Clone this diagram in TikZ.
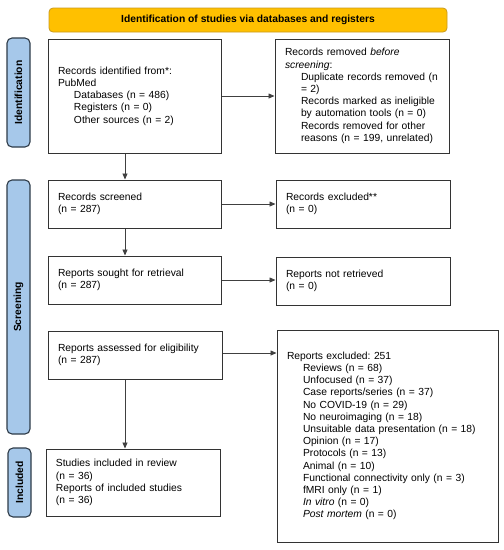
\documentclass[tikz,border=0pt]{standalone}
\usepackage{fontspec}
\setmainfont{Liberation Sans}
\usetikzlibrary{arrows.meta}
\definecolor{hdrfill}{HTML}{FFC000}
\definecolor{hdrline}{HTML}{C99A1E}
\definecolor{barfill}{HTML}{A6C8EA}
\definecolor{barline}{HTML}{2E3B48}
\definecolor{boxline}{HTML}{333333}
\definecolor{arrline}{HTML}{404040}
\newcommand{\ind}{\hspace*{16pt}}
\frenchspacing
\begin{document}
\begin{tikzpicture}[x=1pt,y=-1pt,
  every node/.style={font=\fontsize{10.3}{12.2}\selectfont},
  flowbox/.style={draw=boxline,line width=1pt,fill=white,align=left,inner xsep=10pt,inner ysep=0pt},
  header/.style={draw=hdrline,line width=0.8pt,fill=hdrfill,rounded corners=4pt,minimum width=398pt,minimum height=24pt,font=\bfseries\fontsize{10.3}{12.2}\selectfont},
  sidebar/.style={draw=barline,line width=1.1pt,fill=barfill,rounded corners=5pt,minimum width=23pt,inner sep=0pt,font=\bfseries\fontsize{10.3}{12.2}\selectfont},
  arr/.style={draw=arrline,line width=0.8pt,-{Triangle[length=6pt,width=5pt]}}
]
\useasboundingbox (0,0) rectangle (504,550);

\node[header] (hdr) at (248,20) {Identification of studies via databases and registers};

\node[sidebar,minimum height=109pt] (sid) at (18.5,92.5) {};
\node[rotate=90,font=\bfseries\fontsize{10.3}{12.2}\selectfont] (sidl) at (sid.center) {Identification};
\node[sidebar,minimum height=254pt] (ssc) at (18.5,307) {};
\node[rotate=90,font=\bfseries\fontsize{10.3}{12.2}\selectfont] (sscl) at (ssc.center) {Screening};
\node[sidebar,minimum height=69pt] (sin) at (19.5,482.5) {};
\node[rotate=90,font=\bfseries\fontsize{10.3}{12.2}\selectfont] (sinl) at (sin.center) {Included};

\node[flowbox,text width=153pt,minimum height=114pt] (b1) at (134.5,96) {Records identified from*:\\PubMed\\\ind Databases (n = 486)\\\ind Registers (n = 0)\\\ind Other sources (n = 2)};
\node[flowbox,text width=154pt,minimum height=114pt] (b2) at (362,96) {Records removed \textit{before}\\\textit{screening}:\\\ind\mbox{Duplicate records removed (n}\\\ind = 2)\\\ind\mbox{Records marked as ineligible}\\\ind\mbox{by automation tools (n = 0)}\\\ind\mbox{Records removed for other}\\\ind\mbox{reasons (n = 199, unrelated)}};

\node[flowbox,text width=153pt,minimum height=48pt] (b3) at (134.5,204) {Records screened\\(n = 287)};
\node[flowbox,text width=154pt,minimum height=48pt] (b4) at (363,204) {Records excluded**\\(n = 0)};

\node[flowbox,text width=153pt,minimum height=48pt] (b5) at (134.5,280) {Reports sought for retrieval\\(n = 287)};
\node[flowbox,text width=154pt,minimum height=48pt] (b6) at (363,281) {Reports not retrieved\\(n = 0)};

\node[flowbox,text width=154pt,minimum height=48pt] (b7) at (135,355) {Reports assessed for eligibility\\(n = 287)};
\node[flowbox,text width=201pt,minimum height=212pt] (b8) at (387.5,436) {Reports excluded: 251\\\ind Reviews (n = 68)\\\ind Unfocused (n = 37)\\\ind Case reports/series (n = 37)\\\ind No COVID-19 (n = 29)\\\ind No neuroimaging (n = 18)\\\ind Unsuitable data presentation (n = 18)\\\ind Opinion (n = 17)\\\ind Protocols (n = 13)\\\ind Animal (n = 10)\\\ind Functional connectivity only (n = 3)\\\ind fMRI only (n = 1)\\\ind \textit{In vitro} (n = 0)\\\ind \textit{Post mortem} (n = 0)};

\node[flowbox,text width=154pt,minimum height=67pt] (b9) at (133,482.5) {Studies included in review\\(n = 36)\\Reports of included studies\\(n = 36)};

\coordinate (col) at (125,0);
\draw[arr] (b1.south -| col) -- (b3.north -| col);
\draw[arr] (b3.south -| col) -- (b5.north -| col);
\draw[arr] (b7.south -| col) -- (b9.north -| col);

\draw[arr] (b1.east) -- (b2.west);
\draw[arr] (b3.east) -- (b4.west);
\draw[arr] (b5.east) -- (b5.east -| b6.west);
\draw[arr] ([yshift=2pt]b7.east) -- ([yshift=2pt]b7.east -| b8.west);
\end{tikzpicture}
\end{document}
